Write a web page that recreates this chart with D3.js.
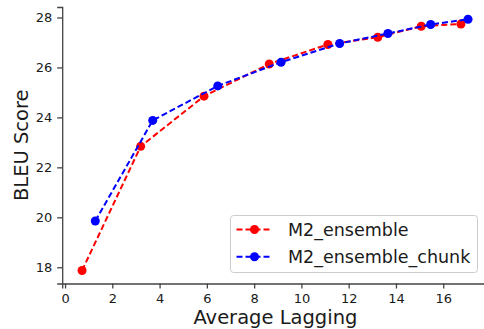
<!DOCTYPE html>
<html>
<head>
<meta charset="utf-8">
<script src="https://cdn.jsdelivr.net/npm/d3@7"></script>
<style>
  body { margin: 0; background: #fff; }
  #vis { width: 484px; height: 329px; }
  text { font-family: "DejaVu Sans", sans-serif; fill: #1a1a1a; }
</style>
</head>
<body>
<div id="vis"></div>
<script>
var width = 484;
var height = 329;

// data
var ensembleLag = [0.72, 3.2, 5.88, 8.64, 11.12, 13.23, 15.07, 16.75];
var ensembleBleu = [17.87, 22.84, 24.85, 26.14, 26.92, 27.21, 27.65, 27.74];
var chunkLag = [1.28, 3.71, 6.46, 9.14, 11.62, 13.66, 15.47, 17.05];
var chunkBleu = [19.85, 23.88, 25.26, 26.21, 26.96, 27.36, 27.72, 27.93];
var seriesNames = ["M2_ensemble", "M2_ensemble_chunk"];
var seriesColors = ["#ff0000", "#0000ff"];
var xTicks = [0, 2, 4, 6, 8, 10, 12, 14, 16];
var yTicks = [18, 20, 22, 24, 26, 28];

var series = [
    { name: seriesNames[0], color: seriesColors[0], x: ensembleLag, y: ensembleBleu },
    { name: seriesNames[1], color: seriesColors[1], x: chunkLag, y: chunkBleu }
];

var svg = d3.select("#vis")
    .append("svg")
    .attr("width", width)
    .attr("height", height);

var xscale = d3.scaleLinear()
    .domain([-0.12, 17.92])
    .range([62.2, 488.6]);

var yscale = d3.scaleLinear()
    .domain([17.35, 28.42])
    .range([283.5, 7]);

var xaxis = d3.axisBottom(xscale).tickValues(xTicks).tickSize(5).tickPadding(5);
var yaxis = d3.axisLeft(yscale).tickValues(yTicks).tickSize(5).tickPadding(5);

var gx = svg.append("g")
    .attr("transform", "translate(0," + yscale.range()[0] + ")")
    .call(xaxis);
var gy = svg.append("g")
    .attr("transform", "translate(" + xscale.range()[0] + ",0)")
    .call(yaxis);

[gx, gy].forEach(function(g) {
    g.selectAll("path, line").attr("stroke", "#444").attr("stroke-width", 1.3);
    g.selectAll("text").style("font-size", "13px").attr("fill", "#1a1a1a");
});

svg.append("text")
    .attr("x", (xscale.range()[0] + xscale.range()[1]) / 2)
    .attr("y", 324)
    .attr("text-anchor", "middle")
    .style("font-size", "19.5px")
    .text("Average Lagging");

svg.append("text")
    .attr("transform", "translate(28," + (yscale.range()[0] + yscale.range()[1]) / 2 + ") rotate(-90)")
    .attr("text-anchor", "middle")
    .style("font-size", "19.5px")
    .text("BLEU Score");

var line = d3.line()
    .x(function(d) { return xscale(d[0]); })
    .y(function(d) { return yscale(d[1]); });

series.forEach(function(s) {
    var pts = s.x.map(function(v, i) { return [v, s.y[i]]; });
    svg.append("path")
        .datum(pts)
        .attr("fill", "none")
        .attr("stroke", s.color)
        .attr("stroke-width", 2)
        .attr("stroke-dasharray", "6,3")
        .attr("d", line);
    svg.selectAll(null)
        .data(pts)
        .enter()
        .append("circle")
        .attr("cx", function(d) { return xscale(d[0]); })
        .attr("cy", function(d) { return yscale(d[1]); })
        .attr("r", 4.5)
        .attr("fill", s.color);
});

// legend
var legend = svg.append("g");
legend.append("rect")
    .attr("x", 230.5)
    .attr("y", 215.5)
    .attr("width", 247)
    .attr("height", 57)
    .attr("rx", 3)
    .attr("fill", "#fff")
    .attr("fill-opacity", 0.8)
    .attr("stroke", "#ccc");

series.forEach(function(s, i) {
    var ly = 229.5 + i * 27.3;
    legend.append("line")
        .attr("x1", 236.5).attr("x2", 272.5)
        .attr("y1", ly).attr("y2", ly)
        .attr("stroke", s.color)
        .attr("stroke-width", 2)
        .attr("stroke-dasharray", "6,3");
    legend.append("circle")
        .attr("cx", 254.5).attr("cy", ly).attr("r", 4.5)
        .attr("fill", s.color);
    legend.append("text")
        .attr("x", 288)
        .attr("y", ly + 6.2)
        .style("font-size", "17.5px")
        .text(s.name);
});
</script>
</body>
</html>
